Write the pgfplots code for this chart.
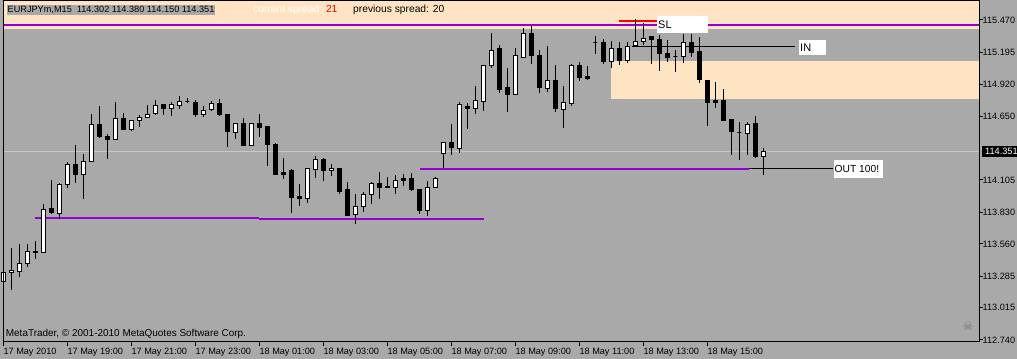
\documentclass[border=0pt]{standalone}
\usepackage{pgfplots}
\pgfplotsset{compat=1.18}
\usepackage{pgfplotstable}
\usepackage{fontspec}
\setmainfont{Liberation Sans}
\newfontfamily\dejavu{DejaVu Sans}
\definecolor{bggray}{HTML}{A9A9A9}
\definecolor{bisque}{HTML}{FFE4C4}
\definecolor{dviolet}{HTML}{9400D3}
\definecolor{bidline}{HTML}{C8C8C8}
\definecolor{skull}{HTML}{767676}

\pgfplotstableread{
i o h l c
0 113.235 113.423 112.783 113.312
1 113.316 113.525 113.167 113.333
2 113.323 113.556 113.280 113.394
3 113.394 113.559 113.360 113.497
4 113.497 113.585 113.435 113.488
5 113.486 113.900 113.482 113.855
6 113.858 114.105 113.819 113.826
7 113.821 114.079 113.770 114.068
8 114.068 114.256 114.039 114.239
9 114.239 114.404 114.082 114.154
10 114.154 114.327 113.940 114.265
11 114.265 114.668 114.259 114.580
12 114.580 114.736 114.466 114.474
13 114.478 114.495 114.287 114.449
14 114.452 114.768 114.452 114.631
15 114.631 114.674 114.538 114.538
16 114.538 114.619 114.520 114.614
17 114.611 114.660 114.560 114.640
18 114.637 114.745 114.637 114.665
19 114.671 114.788 114.660 114.742
20 114.745 114.753 114.660 114.713
21 114.717 114.768 114.651 114.745
22 114.742 114.822 114.711 114.776
23 114.776 114.802 114.759 114.776
24 114.768 114.788 114.645 114.665
25 114.665 114.739 114.645 114.700
26 114.708 114.776 114.691 114.759
27 114.759 114.796 114.651 114.660
28 114.665 114.665 114.384 114.517
29 114.509 114.591 114.457 114.589
30 114.591 114.634 114.401 114.401
31 114.401 114.591 114.401 114.583
32 114.583 114.668 114.469 114.551
33 114.560 114.566 114.227 114.404
34 114.412 114.421 114.148 114.156
35 114.171 114.290 114.114 114.156
36 114.182 114.199 113.826 113.954
37 113.960 114.071 113.886 113.945
38 113.945 114.205 113.906 114.205
39 114.196 114.310 114.125 114.284
40 114.284 114.295 114.099 114.184
41 114.184 114.241 114.139 114.207
42 114.199 114.199 113.985 114.011
43 114.020 114.088 113.798 113.806
44 113.809 113.985 113.730 113.883
45 113.877 114.003 113.832 113.985
46 113.983 114.088 113.900 114.079
47 114.079 114.171 113.943 114.039
48 114.047 114.133 114.043 114.043
49 114.039 114.148 113.988 114.102
50 114.114 114.154 114.056 114.099
51 114.114 114.162 114.014 114.020
52 114.028 114.028 113.815 113.849
53 113.849 114.094 113.798 114.045
54 114.039 114.131 114.039 114.122
55 114.333 114.432 114.205 114.421
56 114.429 114.583 114.318 114.378
57 114.372 114.770 114.338 114.745
58 114.736 114.762 114.543 114.713
59 114.713 114.907 114.668 114.779
60 114.773 115.086 114.694 115.086
61 115.080 115.359 115.063 115.214
62 115.223 115.257 114.850 114.881
63 114.890 115.060 114.688 114.833
64 114.833 115.231 114.833 115.171
65 115.148 115.402 115.148 115.351
66 115.351 115.419 115.097 115.163
67 115.171 115.214 114.850 114.890
68 114.884 115.248 114.856 114.950
69 114.950 115.086 114.688 114.713
70 114.705 114.907 114.551 114.762
71 114.756 115.095 114.739 115.078
72 115.078 115.112 114.950 114.978
73 114.984 115.078 114.958 114.967
74 115.276 115.334 115.183 115.276
75 115.274 115.308 115.097 115.112
76 115.112 115.291 115.063 115.231
77 115.231 115.282 115.089 115.123
78 115.123 115.282 115.106 115.246
79 115.254 115.476 115.242 115.288
80 115.288 115.442 115.254 115.316
81 115.325 115.334 115.092 115.305
82 115.305 115.342 115.037 115.183
83 115.188 115.297 115.114 115.148
84 115.157 115.211 115.029 115.157
85 115.160 115.348 115.101 115.280
86 115.280 115.351 115.157 115.191
87 115.197 115.325 114.935 114.961
88 114.958 114.958 114.568 114.764
89 114.781 114.941 114.722 114.768
90 114.779 114.881 114.611 114.611
91 114.617 114.617 114.321 114.517
92 114.509 114.600 114.278 114.509
93 114.503 114.600 114.321 114.580
94 114.583 114.651 114.295 114.302
95 114.302 114.380 114.150 114.351
}\candles

\begin{document}
\begin{tikzpicture}
\fill[bggray] (0,0) rectangle (1017bp,359bp);
\begin{axis}[
  at={(3bp,17bp)}, anchor=south west,
  scale only axis, width=976bp, height=341bp,
  xmin=-0.04, xmax=121.96, ymin=112.7229, ymax=115.6321,
  clip=false, axis on top,
  axis line style={black, line width=1bp},
  tick style={black, line width=1bp},
  tick align=outside,
  major tick length=3.5bp,
  ytick pos=right, yticklabel pos=right,
  xtick pos=bottom,
  ytick={115.470,115.195,114.920,114.650,114.105,113.830,113.560,113.285,113.015,112.740},
  yticklabels={115.470,115.195,114.920,114.650,114.105,113.830,113.560,113.285,113.015,112.740},
  xtick={0,8,...,88},
  xticklabels={17 May 2010,17 May 19:00,17 May 21:00,17 May 23:00,18 May 01:00,18 May 03:00,18 May 05:00,18 May 07:00,18 May 09:00,18 May 11:00,18 May 13:00,18 May 15:00},
  xticklabel style={anchor=north west, inner sep=0pt, yshift=-2.2bp, font=\fontsize{9.2}{10}\selectfont},
  yticklabel style={anchor=west, inner sep=0pt, font=\fontsize{9.2}{10}\selectfont},
]
% zones
\addplot[fill=bisque, draw=none, forget plot] coordinates {(-0.04,115.391) (121.96,115.391) (121.96,115.6321) (-0.04,115.6321)} -- cycle;
\addplot[fill=bisque, draw=none, forget plot] coordinates {(75.96,114.796) (121.96,114.796) (121.96,115.120) (75.96,115.120)} -- cycle;
% bid line
\addplot[bidline, line width=1bp, forget plot] coordinates {(-0.04,114.351) (121.96,114.351)};
% lines
\addplot[dviolet, line width=2bp, forget plot] coordinates {(-0.04,115.4316) (121.96,115.4316)};
\addplot[dviolet, line width=2bp, forget plot] coordinates {(3.96,113.781) (31.96,113.781)};
\addplot[dviolet, line width=2bp, forget plot] coordinates {(31.96,113.772) (60.09,113.772)};
\addplot[dviolet, line width=2bp, forget plot] coordinates {(52.09,114.2014) (93.2,114.2014)};
\addplot[black, line width=1.5bp, forget plot] coordinates {(93.2,114.2014) (103.7,114.2014)};
\addplot[black, line width=1bp, forget plot] coordinates {(78.59,115.2397) (98.96,115.2397)};
\addplot[red, line width=2bp, forget plot] coordinates {(76.96,115.464) (81.71,115.464)};
% candles
\pgfplotsforeachungrouped \r in {0,...,95}{%
  \pgfplotstablegetelem{\r}{i}\of\candles\let\vi\pgfplotsretval
  \pgfplotstablegetelem{\r}{o}\of\candles\let\vo\pgfplotsretval
  \pgfplotstablegetelem{\r}{h}\of\candles\let\vh\pgfplotsretval
  \pgfplotstablegetelem{\r}{l}\of\candles\let\vl\pgfplotsretval
  \pgfplotstablegetelem{\r}{c}\of\candles\let\vc\pgfplotsretval
  \pgfmathsetmacro\xa{\vi-0.25}%
  \pgfmathsetmacro\xb{\vi+0.25}%
  \pgfmathparse{\vc>=\vo ? 1 : 0}%
  \ifdim\pgfmathresult pt>0.5pt \def\fc{white}\else\def\fc{black}\fi
  \edef\doit{%
    \noexpand\addplot[black, line width=1bp, forget plot] coordinates {(\vi,\vl) (\vi,\vh)};
    \noexpand\addplot[draw=black, fill=\fc, line width=1bp, forget plot] coordinates {(\xa,\vo) (\xb,\vo) (\xb,\vc) (\xa,\vc)} -- cycle;
  }%
  \doit
}
\end{axis}
% header texts
\node[anchor=west, fill=bggray, inner sep=1bp, font=\fontsize{9.2}{10}\selectfont] at (6.5bp,349bp) {EURJPYm,M15\ \ 114.302 114.380 114.150 114.351};
\node[anchor=west, inner sep=0pt, font=\fontsize{10.3}{12}\selectfont] at (253bp,349bp) {\textcolor{white}{current spread:} \textcolor{red}{21}};
\node[anchor=west, inner sep=0pt, font=\fontsize{10.3}{12}\selectfont] at (353bp,349bp) {previous spread: 20};
% object labels
\fill[white] (657bp,326bp) rectangle (708bp,343bp);
\node[anchor=west, inner sep=0pt, font=\fontsize{11}{12}\selectfont] at (658bp,334.5bp) {SL};
\fill[white] (799bp,304.3bp) rectangle (826bp,319bp);
\node[anchor=west, inner sep=0pt, font=\fontsize{11}{12}\selectfont] at (800bp,311.7bp) {IN};
\fill[white] (834bp,181bp) rectangle (883bp,199bp);
\node[anchor=west, inner sep=0pt, font=\fontsize{10.3}{12}\selectfont] at (834.5bp,190bp) {OUT 100!};
% current price label
\fill[black] (981.7bp,202bp) rectangle (1017bp,213bp);
\node[anchor=west, inner sep=0pt, text=white, font=\fontsize{9.2}{10}\selectfont] at (985bp,207.6bp) {114.351};
% copyright and icon
\node[anchor=west, inner sep=0pt, font=\fontsize{10}{12}\selectfont] at (5.7bp,25.3bp) {MetaTrader, © 2001-2010 MetaQuotes Software Corp.};
\node[text=skull, inner sep=0pt, font=\dejavu\fontsize{12}{13}\selectfont] at (968bp,33bp) {☠};
\pgfresetboundingbox
\useasboundingbox (0,0) rectangle (1017bp,359bp);
\end{tikzpicture}
\end{document}
